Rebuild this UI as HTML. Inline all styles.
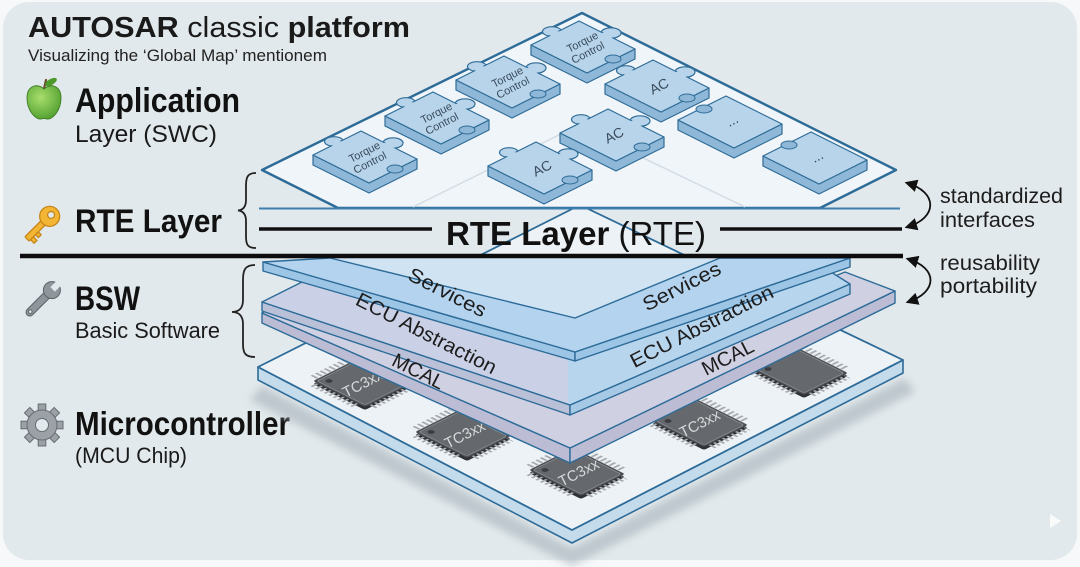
<!DOCTYPE html>
<html><head><meta charset="utf-8">
<style>
html,body{margin:0;padding:0;background:#f6f8f9;}
svg{display:block;}
text{font-family:"Liberation Sans",Arial,sans-serif;}
</style></head><body>
<svg width="1080" height="567" viewBox="0 0 1080 567" xmlns="http://www.w3.org/2000/svg">
<defs>
 <radialGradient id="appleG" cx="0.4" cy="0.35" r="0.75">
  <stop offset="0" stop-color="#a8de6c"/><stop offset="1" stop-color="#4a9a2b"/>
 </radialGradient>
 <linearGradient id="ecuG" x1="262" x2="850" y1="0" y2="0" gradientUnits="userSpaceOnUse">
  <stop offset="0" stop-color="#cad1e6"/><stop offset="0.52" stop-color="#cad1e6"/>
  <stop offset="0.52" stop-color="#b8d5ee"/><stop offset="1" stop-color="#b8d5ee"/>
 </linearGradient>
 <filter id="blur" x="-10%" y="-10%" width="120%" height="120%"><feGaussianBlur stdDeviation="4"/></filter>
 <marker id="ah" viewBox="0 0 10 10" refX="8" refY="5" markerWidth="7" markerHeight="7" orient="auto-start-reverse">
  <path d="M0 0 L10 5 L0 10 z" fill="#111"/>
 </marker>
 <g id="pz">
  <polygon points="-52,-2 4,26 52,2 52,12 4,36 -52,8" fill="#8fb8d8" stroke="#2f6c97" stroke-width="1.2" stroke-linejoin="round"/>
  <ellipse cx="28" cy="-14" rx="10" ry="5.2" fill="#b7d4ea" stroke="#2f6c97" stroke-width="1.2"/>
  <ellipse cx="-31" cy="-15.5" rx="9.5" ry="4.8" fill="#b7d4ea" stroke="#2f6c97" stroke-width="1.2"/>
  <polygon points="-52,-2 -4,-26 52,2 4,26" fill="#b7d4ea" stroke="#2f6c97" stroke-width="1.2" stroke-linejoin="round"/>
  <ellipse cx="24" cy="-11.5" rx="7" ry="3.2" fill="#b7d4ea"/>
  <ellipse cx="-27" cy="-13" rx="6.5" ry="3" fill="#b7d4ea"/>
  <ellipse cx="30" cy="12" rx="8" ry="4" fill="#8fb8d8" stroke="#2f6c97" stroke-width="1"/>
 </g>
 <g id="tile">
  <polygon points="-52,-2 4,26 52,2 52,12 4,36 -52,8" fill="#8fb8d8" stroke="#2f6c97" stroke-width="1.2" stroke-linejoin="round"/>
  <polygon points="-52,-2 -4,-26 52,2 4,26" fill="#b7d4ea" stroke="#2f6c97" stroke-width="1.2" stroke-linejoin="round"/>
  <ellipse cx="-26" cy="-13" rx="8" ry="4" fill="#8fb8d8" stroke="#2f6c97" stroke-width="1"/>
 </g>
 <g id="chip">
  <g transform="translate(0,3) matrix(1 0.5 1 -0.5 0 0)">
   <rect x="-26" y="-22" width="52" height="44" rx="2" fill="#2f3134"/>
  </g>
  <g transform="matrix(1 0.5 1 -0.5 0 0)">
   <path d="M-22 -25.5 H22 M-22 25.5 H22 M-29.5 -18 V18 M29.5 -18 V18" stroke="#a7abb0" stroke-width="6" stroke-dasharray="2 2.4" fill="none"/>
   <rect x="-26" y="-22" width="52" height="44" rx="2" fill="#4b4e52"/>
   <rect x="-24" y="-20" width="48" height="40" rx="2" fill="#65686c" stroke="#8c8f93" stroke-width="0.8"/>
   <circle cx="-18" cy="-14" r="2.5" fill="#3b3d40"/>
  </g>
 </g>
</defs>

<!-- card -->
<rect x="3" y="2" width="1074" height="558" rx="26" fill="#e2e9ec"/>
<polygon points="1050,514 1050,528 1061,521" fill="#ffffff" opacity="0.8"/>

<!-- ===== Left column ===== -->
<text x="28" y="37" font-size="29" fill="#1a1a1a" textLength="382" lengthAdjust="spacingAndGlyphs"><tspan font-weight="bold">AUTOSAR</tspan> classic <tspan font-weight="bold">platform</tspan></text>
<text x="28" y="61" font-size="16.5" fill="#222" textLength="299" lengthAdjust="spacingAndGlyphs">Visualizing the ‘Global Map’ mentionem</text>

<!-- apple -->
<line x1="44" y1="89" x2="46" y2="80" stroke="#6b4a2a" stroke-width="2.2" stroke-linecap="round"/>
<ellipse cx="51" cy="82" rx="6.5" ry="3" transform="rotate(-30 51 82)" fill="#4c9a2a"/>
<path d="M44 89 C 38 83, 27 85, 27 98 C 27 111, 36 120, 41 119 C 43 118.4, 45 118.4, 47 119 C 52 120, 61 111, 61 98 C 61 85, 50 83, 44 89 Z" fill="url(#appleG)" stroke="#3d7a22" stroke-width="0.9"/>
<text x="75" y="112" font-size="34" font-weight="bold" fill="#111" textLength="165" lengthAdjust="spacingAndGlyphs">Application</text>
<text x="75" y="142" font-size="24" fill="#1a1a1a" textLength="142" lengthAdjust="spacingAndGlyphs">Layer (SWC)</text>

<!-- key -->
<g transform="translate(44,222) rotate(-45)" fill="#f3b634" stroke="#c68618" stroke-width="1.3">
 <rect x="-24" y="-3" width="26" height="6" rx="1"/>
 <rect x="-22" y="3" width="4" height="5"/>
 <rect x="-15" y="3" width="4" height="4"/>
 <circle cx="8" cy="0" r="10"/>
 <circle cx="10" cy="0" r="3.5" fill="#e2e9ec"/>
</g>
<text x="75" y="232" font-size="32" font-weight="bold" fill="#111" textLength="147" lengthAdjust="spacingAndGlyphs">RTE Layer</text>
<path d="M256 173 C 247 173, 246 178, 246 186 L 246 200 C 246 207, 243 210, 238 210.5 C 243 211, 246 214, 246 221 L 246 236 C 246 244, 247 248, 256 248" fill="none" stroke="#222" stroke-width="1.8"/>

<!-- wrench -->
<g transform="translate(42,300) rotate(-45)" fill="#8e959b" stroke="#5c6369" stroke-width="1">
 <rect x="-21" y="-3.8" width="32" height="7.6" rx="3.8"/>
 <circle cx="14" cy="0" r="8.5"/>
 <rect x="15" y="-3.2" width="10" height="6.4" fill="#e2e9ec" stroke="none"/>
 <circle cx="-16.5" cy="0" r="1.8" fill="#e2e9ec"/>
</g>
<text x="75" y="310" font-size="34" font-weight="bold" fill="#111" textLength="65" lengthAdjust="spacingAndGlyphs">BSW</text>
<text x="75" y="338" font-size="22" fill="#1a1a1a" textLength="145" lengthAdjust="spacingAndGlyphs">Basic Software</text>
<path d="M255 265 C 245 265, 243 270, 243 280 L 243 300 C 243 308, 239 312, 232 312 C 239 312, 243 316, 243 324 L 243 344 C 243 353, 245 357, 255 357" fill="none" stroke="#222" stroke-width="1.8"/>

<!-- gear -->
<g transform="translate(42,425)" fill="#9ba1a7" stroke="#666c72" stroke-width="1">
 <rect x="-3.8" y="-21" width="7.6" height="9" transform="rotate(0)"/>
 <rect x="-3.8" y="-21" width="7.6" height="9" transform="rotate(45)"/>
 <rect x="-3.8" y="-21" width="7.6" height="9" transform="rotate(90)"/>
 <rect x="-3.8" y="-21" width="7.6" height="9" transform="rotate(135)"/>
 <rect x="-3.8" y="-21" width="7.6" height="9" transform="rotate(180)"/>
 <rect x="-3.8" y="-21" width="7.6" height="9" transform="rotate(225)"/>
 <rect x="-3.8" y="-21" width="7.6" height="9" transform="rotate(270)"/>
 <rect x="-3.8" y="-21" width="7.6" height="9" transform="rotate(315)"/>
 <circle r="15"/>
 <circle r="6.5" fill="#e2e9ec"/>
</g>
<text x="75" y="435" font-size="33" font-weight="bold" fill="#111" textLength="215" lengthAdjust="spacingAndGlyphs">Microcontroller</text>
<text x="75" y="463" font-size="22" fill="#1a1a1a" textLength="112" lengthAdjust="spacingAndGlyphs">(MCU Chip)</text>

<!-- ===== Board + chips ===== -->
<polygon points="262,386 572,548 905,378 915,392 572,566 250,400" fill="#aab6be" opacity="0.65" filter="url(#blur)"/>
<polygon points="258,367 572,530 903,360 903,373 572,543 258,380" fill="#c4dbec" stroke="#2d6b98" stroke-width="1.6" stroke-linejoin="round"/>
<polygon points="258,367 580,205 903,360 572,530" fill="#edf2f6" stroke="#2d6b98" stroke-width="1.8" stroke-linejoin="round"/>

<use href="#chip" transform="translate(361,383)"/>
<use href="#chip" transform="translate(463,434)"/>
<use href="#chip" transform="translate(800,371)"/>
<use href="#chip" transform="translate(700,423)"/>
<use href="#chip" transform="translate(577,472)"/>
<g font-size="15" fill="#d7d9db" text-anchor="middle" dominant-baseline="central">
 <text transform="translate(363,384) rotate(-27)">TC3xx</text>
 <text transform="translate(465,435) rotate(-27)">TC3xx</text>
 <text transform="translate(700,424) rotate(-27)">TC3xx</text>
 <text transform="translate(579,473) rotate(-27)">TC3xx</text>
</g>

<!-- ===== MCAL ===== -->
<polygon points="262,313 570,448 570,463 262,323" fill="#bcbdd4" stroke="#2d6b98" stroke-width="1.4" stroke-linejoin="round"/>
<polygon points="570,448 895,291 895,303 570,463" fill="#bcbdd4" stroke="#2d6b98" stroke-width="1.4" stroke-linejoin="round"/>
<polygon points="262,313 300,292 575,380 845,272 895,291 570,448" fill="#d0d0e3" stroke="#2d6b98" stroke-width="1.4" stroke-linejoin="round"/>

<!-- ===== ECU ===== -->
<polygon points="262,302 570,405 570,415 262,311" fill="#b9c0d8" stroke="#2d6b98" stroke-width="1.4" stroke-linejoin="round"/>
<polygon points="570,405 850,284 850,294 570,415" fill="#a6c9e5" stroke="#2d6b98" stroke-width="1.4" stroke-linejoin="round"/>
<polygon points="262,302 330,268 575,320 815,262 850,284 570,405" fill="url(#ecuG)" stroke="#2d6b98" stroke-width="1.4" stroke-linejoin="round"/>

<!-- inner floor -->
<polygon points="320,257 575,322 730,257" fill="#cfe3f3"/>

<!-- ===== Services ===== -->
<polygon points="263,262 575,352 575,361 263,271" fill="#9dc5e5" stroke="#2d6b98" stroke-width="1.4" stroke-linejoin="round"/>
<polygon points="575,352 850,258 850,267 575,361" fill="#9dc5e5" stroke="#2d6b98" stroke-width="1.4" stroke-linejoin="round"/>
<polygon points="263,262 330,258 575,318 720,258 850,258 575,352" fill="#b4d3ee" stroke="#2d6b98" stroke-width="1.4" stroke-linejoin="round"/>

<!-- layer labels -->
<g font-size="20" fill="#1d1d1d" text-anchor="middle" dominant-baseline="central">
 <text transform="translate(447,293) rotate(27)" textLength="85" lengthAdjust="spacingAndGlyphs">Services</text>
 <text transform="translate(426,334) rotate(27)" textLength="155" lengthAdjust="spacingAndGlyphs">ECU Abstraction</text>
 <text transform="translate(418,372) rotate(27)">MCAL</text>
 <text transform="translate(682,287) rotate(-27)" textLength="85" lengthAdjust="spacingAndGlyphs">Services</text>
 <text transform="translate(702,327) rotate(-27)" textLength="158" lengthAdjust="spacingAndGlyphs">ECU Abstraction</text>
 <text transform="translate(728,358) rotate(-27)">MCAL</text>
</g>

<!-- ===== Application platform ===== -->
<polygon points="262,170 582,13 896,170 820,208 338,208" fill="#f0f5f9" stroke="#2d6b98" stroke-width="2.4" stroke-linejoin="round"/>
<polyline points="413,207 577,126 745,207" fill="none" stroke="#d2dce5" stroke-width="1.5"/>

<use href="#pz" transform="translate(583,47)"/>
<use href="#pz" transform="translate(508,82)"/>
<use href="#pz" transform="translate(657,86)"/>
<use href="#pz" transform="translate(437,118)"/>
<use href="#tile" transform="translate(730,122)"/>
<use href="#pz" transform="translate(612,135)"/>
<use href="#pz" transform="translate(365,157)"/>
<use href="#tile" transform="translate(815,158)"/>
<use href="#pz" transform="translate(540,168)"/>

<g font-size="11" fill="#3a4b5c" text-anchor="middle">
 <text transform="translate(585,47) rotate(-27)"><tspan x="0" y="-2">Torque</tspan><tspan x="0" y="10">Control</tspan></text>
 <text transform="translate(510,82) rotate(-27)"><tspan x="0" y="-2">Torque</tspan><tspan x="0" y="10">Control</tspan></text>
 <text transform="translate(439,118) rotate(-27)"><tspan x="0" y="-2">Torque</tspan><tspan x="0" y="10">Control</tspan></text>
 <text transform="translate(367,157) rotate(-27)"><tspan x="0" y="-2">Torque</tspan><tspan x="0" y="10">Control</tspan></text>
</g>
<g font-size="14" fill="#3a4b5c" text-anchor="middle" dominant-baseline="central">
 <text transform="translate(659,86) rotate(-27)">AC</text>
 <text transform="translate(614,135) rotate(-27)">AC</text>
 <text transform="translate(542,168) rotate(-27)">AC</text>
 <text transform="translate(732,120) rotate(-27)">...</text>
 <text transform="translate(817,156) rotate(-27)">...</text>
</g>

<!-- ===== RTE lines ===== -->
<line x1="259" y1="208.5" x2="900" y2="208.5" stroke="#3d7fae" stroke-width="2"/>
<line x1="259" y1="229" x2="432" y2="229" stroke="#111" stroke-width="3.5"/>
<line x1="720" y1="229" x2="902" y2="229" stroke="#111" stroke-width="3.5"/>
<text x="446" y="245" font-size="33" fill="#111" textLength="260" lengthAdjust="spacingAndGlyphs"><tspan font-weight="bold">RTE Layer</tspan> (RTE)</text>
<line x1="20" y1="256" x2="903" y2="256" stroke="#0d0d0d" stroke-width="4.5"/>

<!-- ===== right annotations ===== -->
<path d="M907 183 C 938 192, 938 218, 907 227" fill="none" stroke="#111" stroke-width="1.8" marker-start="url(#ah)" marker-end="url(#ah)"/>
<path d="M908 259 C 938 268, 938 292, 908 302" fill="none" stroke="#111" stroke-width="1.8" marker-start="url(#ah)" marker-end="url(#ah)"/>
<g font-size="21" fill="#1d1d1d">
 <text x="940" y="203" textLength="123" lengthAdjust="spacingAndGlyphs">standardized</text>
 <text x="940" y="227" textLength="95" lengthAdjust="spacingAndGlyphs">interfaces</text>
 <text x="940" y="270" textLength="100" lengthAdjust="spacingAndGlyphs">reusability</text>
 <text x="940" y="293" textLength="97" lengthAdjust="spacingAndGlyphs">portability</text>
</g>
</svg>
</body></html>
